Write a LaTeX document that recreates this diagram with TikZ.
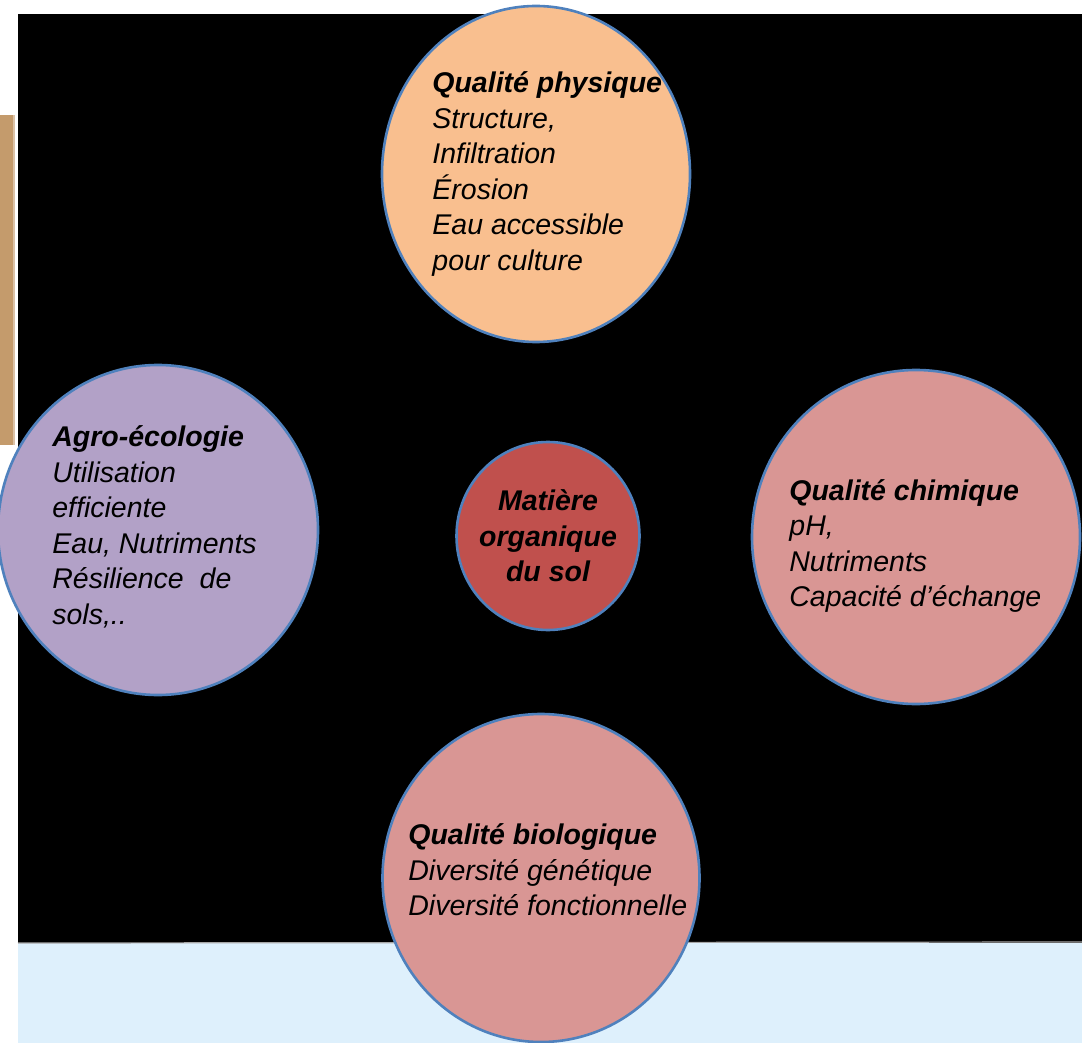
\documentclass[tikz,border=0pt]{standalone}
\usepackage{fontspec}
\setmainfont{Liberation Sans}
\usetikzlibrary{shapes.geometric}
\definecolor{ringblue}{HTML}{4F81BD}
\definecolor{peach}{HTML}{F9BF8F}
\definecolor{lavender}{HTML}{B2A1C7}
\definecolor{rose}{HTML}{D99694}
\definecolor{brick}{HTML}{C0504D}
\definecolor{tan}{HTML}{C49B6C}
\definecolor{paleblue}{HTML}{DEF0FC}
\begin{document}
\begin{tikzpicture}
               [x=0.5pt, y=-0.5pt,
                ring/.style = {ellipse, draw=ringblue, line width=1.3pt, inner sep=0pt},
                txt/.style = {align=left, inner sep=0pt, anchor=west, font=\fontsize{14.25}{17.75}\selectfont\itshape}]
                % Background
                \useasboundingbox[fill=white] (0,0) rectangle (1082,1043);
                \fill[tan] (0,115) rectangle (13,445);
                \fill[tan!60] (13,115) rectangle (15,445);
                \fill[black] (18,14) rectangle (1082,943);
                \fill[paleblue] (18,943) rectangle (1082,1043);
                \draw[gray!70, line width=0.6pt] (18,943) -- (1082,942);
                % Circles
                \node[ring, fill=peach, minimum width=154pt, minimum height=168pt] (phys) at (536,174) {};
                \node[ring, fill=lavender, minimum width=160pt, minimum height=165pt] (agro) at (158,530) {};
                \node[ring, fill=rose, minimum width=164pt, minimum height=167pt] (chim) at (916,537) {};
                \node[ring, fill=rose, minimum width=158.5pt, minimum height=164pt] (bio) at (541,878) {};
                \node[ring, fill=brick, minimum width=91.5pt, minimum height=94pt] (mos) at (548,536) {};
                % Texts
                \node[txt] (physT) at (432,174) {\textbf{Qualité physique}\\Structure,\\Infiltration\\Érosion\\Eau accessible\\pour culture};
                \node[txt] (agroT) at (52,527) {\textbf{Agro-écologie}\\Utilisation\\efficiente\\Eau, Nutriments\\Résilience~~de\\sols,..};
                \node[txt] (chimT) at (789,546) {\textbf{Qualité chimique}\\pH,\\Nutriments\\Capacité d’échange};
                \node[txt] (bioT) at (408,870) {\textbf{Qualité biologique}\\Diversité génétique\\Diversité fonctionnelle};
                \node[txt, anchor=center, align=center] (mosT) at (548,536) {\textbf{Matière}\\\textbf{organique}\\\textbf{du sol}};
            \end{tikzpicture}
\end{document}
